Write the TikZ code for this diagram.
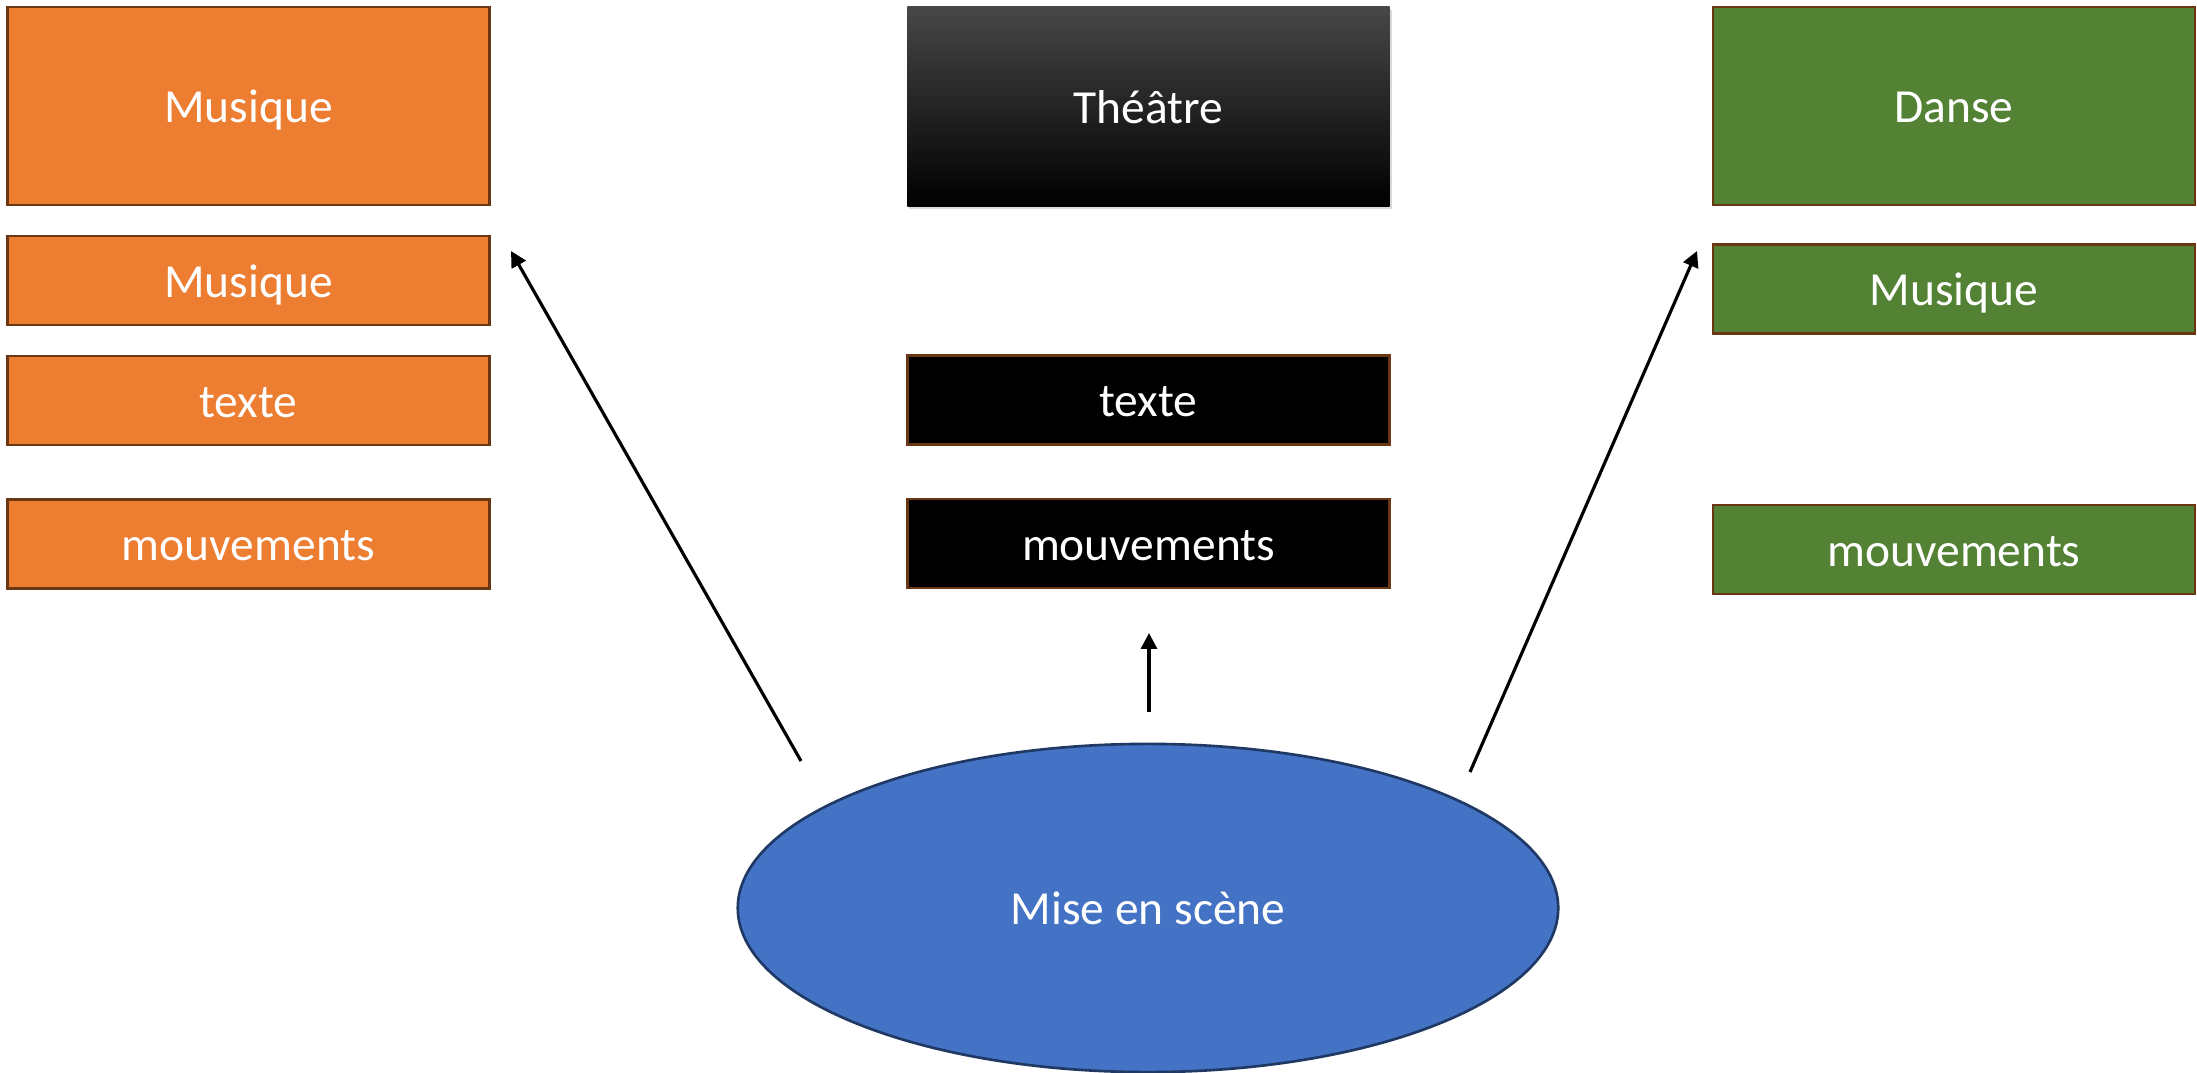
\documentclass[tikz,border=0pt]{standalone}
\usepackage{fontspec}
\setmainfont{Carlito}
\usetikzlibrary{shapes.geometric,shadows,arrows.meta}

\definecolor{orangebox}{HTML}{ED7D31}
\definecolor{greenbox}{HTML}{548235}
\definecolor{bluebox}{HTML}{4472C4}
\definecolor{brownline}{HTML}{6B3614}
\definecolor{navyline}{HTML}{1F3864}

\tikzset{
  card/.style={rectangle, draw=brownline, line width=0.75pt, text=white,
    minimum width=4.82cm, minimum height=0.89cm, inner sep=0pt,
    text height=12.5pt, text depth=2.9pt,
    font=\fontsize{13.5}{16}\selectfont},
  orangecard/.style={card, fill=orangebox},
  greencard/.style={card, fill=greenbox},
  blackcard/.style={card, fill=black},
  link/.style={line width=0.9pt, -{Triangle[length=4.5pt,width=4.5pt]}}
}

\begin{document}
\begin{tikzpicture}[x=0.01cm,y=-0.01cm]
\useasboundingbox (0,0) rectangle (2197,1073);
% musique
\node (musA) at (248.5,106) [orangecard, minimum height=1.98cm] {Musique};
\node (musB) at (248.5,280.5) [orangecard] {Musique};
\node (texA) at (248.5,400.5) [orangecard] {texte};
\node (mvtA) at (248.5,544) [orangecard] {mouvements};
% theatre
\node (theatre) at (1148.5,106.5) [card, draw=none, minimum height=1.99cm,
  top color=black!72, middle color=black, bottom color=black,
  drop shadow={opacity=0.3, shadow xshift=0.6pt, shadow yshift=-0.8pt}] {Théâtre};
\node (texB) at (1148.5,400) [blackcard] {texte};
\node (mvtB) at (1148.5,543.5) [blackcard] {mouvements};
% danse
\node (danse) at (1954,106) [greencard, minimum height=1.98cm] {Danse};
\node (musC) at (1954,289) [greencard] {Musique};
\node (mvtC) at (1954,549.5) [greencard] {mouvements};
% mise en scene
\node (scene) at (1148,908) [ellipse, fill=bluebox, draw=navyline, line width=0.75pt,
  minimum width=8.2cm, minimum height=3.28cm, inner sep=0pt, text=white,
  text height=12.5pt, text depth=2.9pt,
  font=\fontsize{13.5}{16}\selectfont] {Mise en scène};
\coordinate (fromA) at (801,761);
\coordinate (toA) at (511,251);
\coordinate (fromB) at (1149,712);
\coordinate (toB) at (1149,633);
\coordinate (fromC) at (1470,772);
\coordinate (toC) at (1697,251);
\draw [link] (fromA) -- (toA);
\draw [link] (fromB) -- (toB);
\draw [link] (fromC) -- (toC);
\end{tikzpicture}
\end{document}
